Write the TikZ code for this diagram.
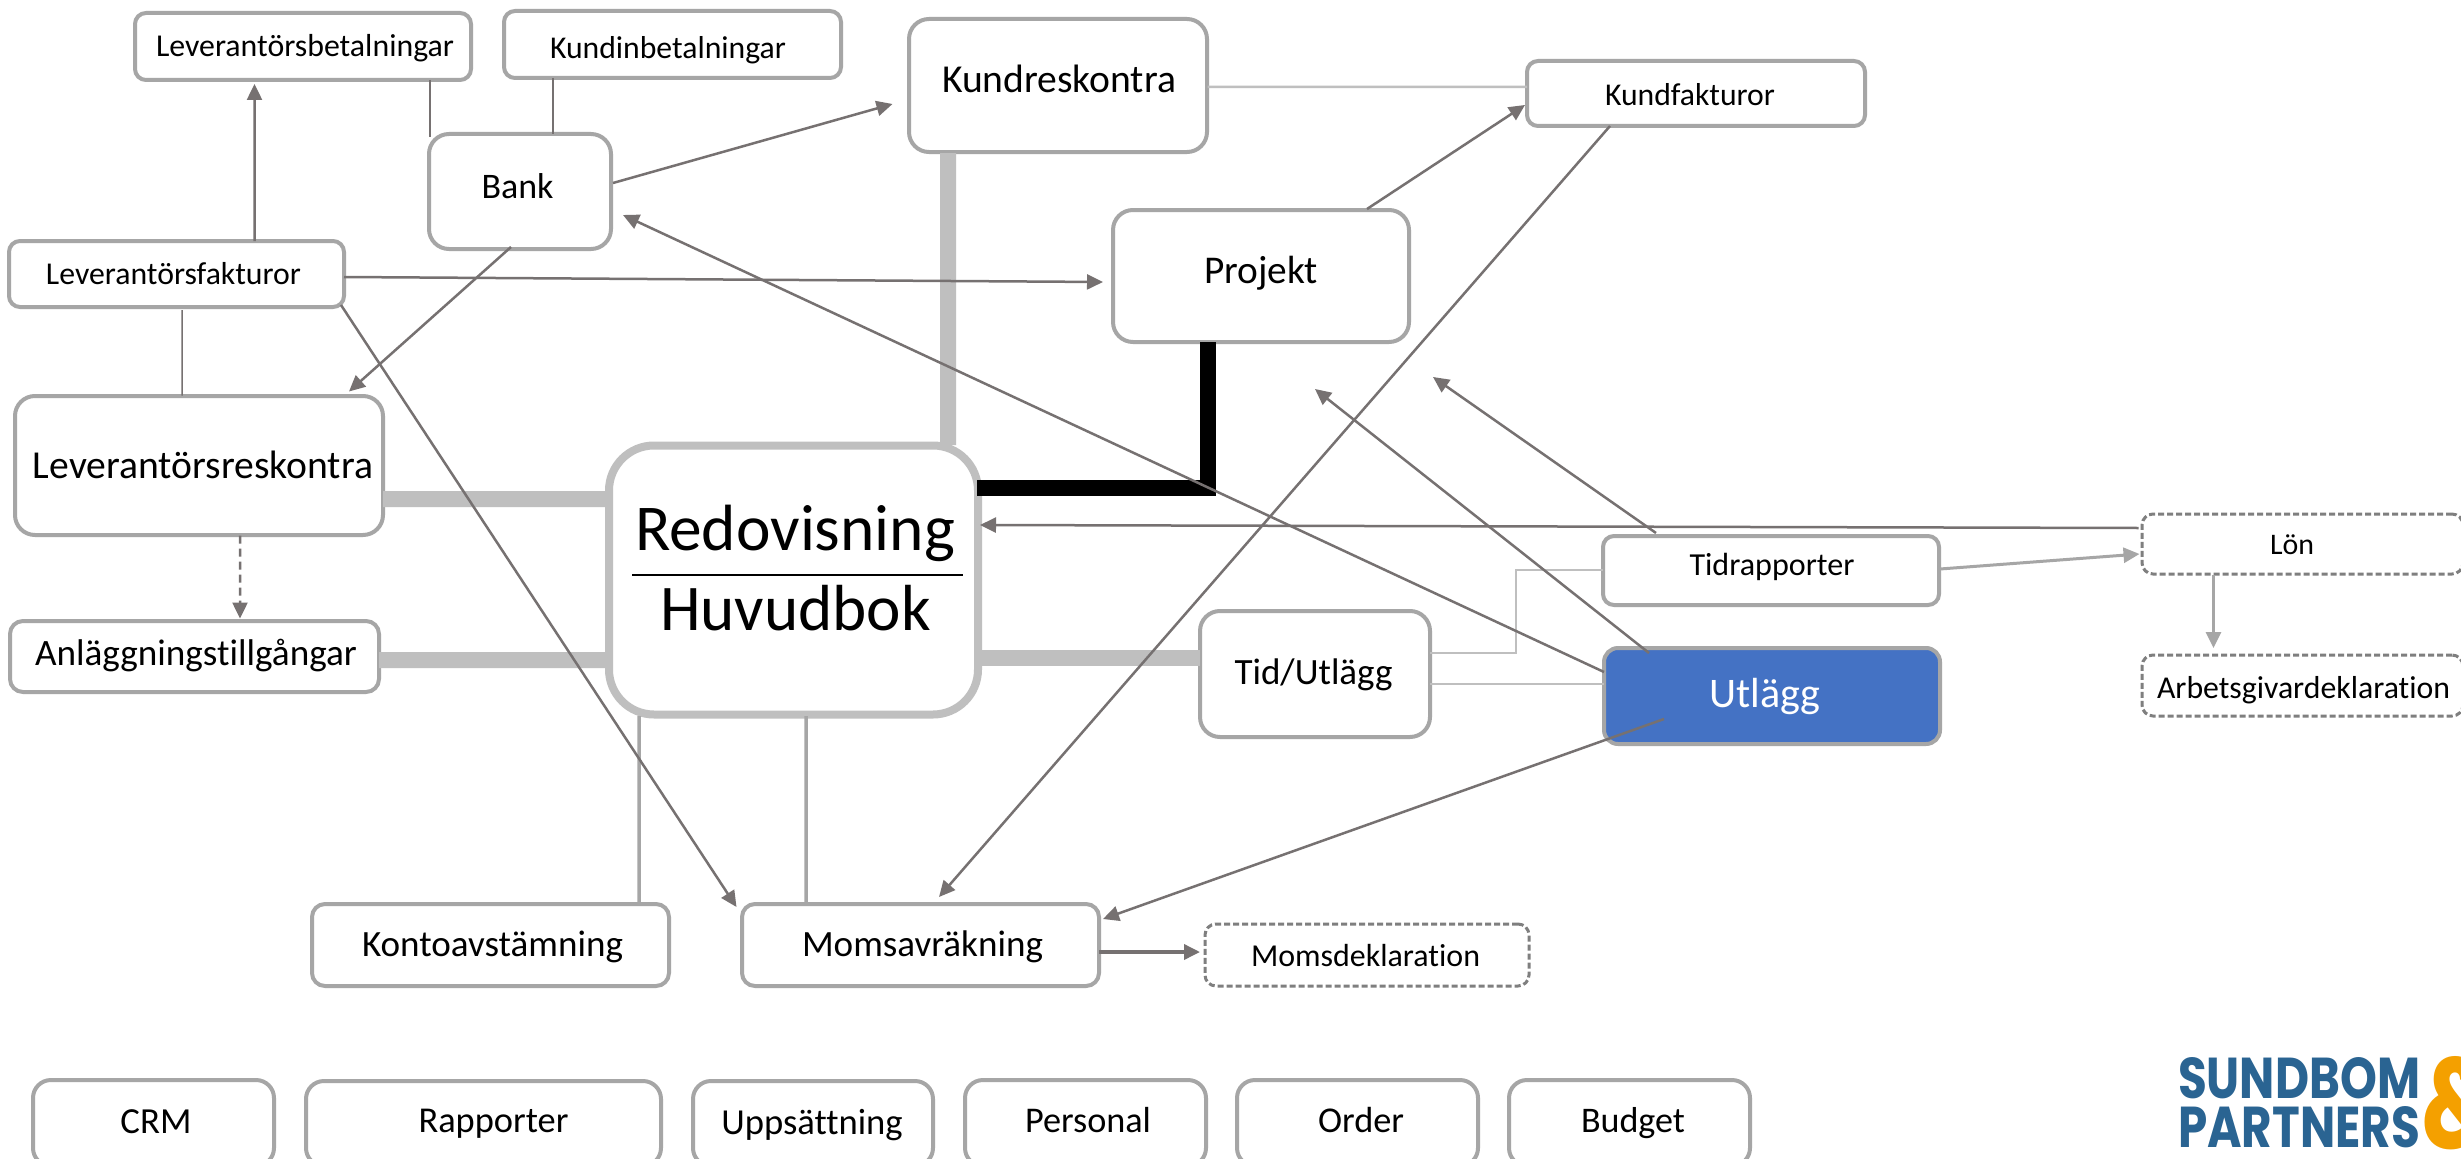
\documentclass[tikz,border=0pt]{standalone}
\usepackage{graphicx}
\usepackage{fontspec}
\setmainfont{Carlito}[Ligatures=NoCommon]
\newfontfamily\logofont{Poppins}
\usetikzlibrary{arrows.meta,calc}
\definecolor{edgec}{HTML}{A6A6A6}
\definecolor{hubc}{HTML}{BFBFBF}
\definecolor{connc}{HTML}{767171}
\definecolor{dashc}{HTML}{7F7F7F}
\definecolor{blueone}{HTML}{4472C4}
\definecolor{logoblue}{HTML}{2A6492}
\definecolor{logoorange}{HTML}{F4A000}
\newlength{\upx}\setlength{\upx}{0.02cm}
\newcommand{\fsz}[1]{\fontsize{#1\upx}{#1\upx}\selectfont}
\tikzset{
  x=0.02cm,y=-0.02cm,
  tip/.tip={Triangle[length=0.32cm,width=0.3cm]},
  base/.style={draw=edgec,fill=white,line width=4\upx,inner sep=0pt,outer sep=0pt,rounded corners=20\upx,text=black,font=\fsz{36}},
  smallbox/.style={base,rounded corners=11\upx},
  bigbox/.style={base,rounded corners=20\upx},
  midbox/.style={base,rounded corners=13\upx},
  lowbox/.style={base,rounded corners=18\upx},
  dashbox/.style={base,draw=dashc,line width=3\upx,dash pattern=on 6\upx off 3\upx,rounded corners=11\upx},
  bluebox/.style={base,fill=blueone,text=white,rounded corners=14\upx},
  hubbox/.style={base,draw=hubc,line width=8\upx,rounded corners=45\upx},
  hubtext/.style={font=\fsz{62},inner sep=0pt,anchor=base},
  arrowconn/.style={draw=connc,line width=2.5\upx,-{tip}},
  plainconn/.style={draw=connc,line width=1.5\upx},
  lightconn/.style={draw=hubc,line width=2.5\upx},
  heavyconn/.style={draw=hubc,line width=16\upx},
  blackconn/.style={draw=black,line width=16\upx},
  greyarrow/.style={draw=edgec,line width=3\upx,-{tip}},
  hubconn/.style={draw=edgec,line width=3.5\upx},
  strongarrow/.style={draw=connc,line width=3.5\upx,-{tip}},
  dasharrow/.style={draw=connc,line width=2.5\upx,dash pattern=on 8\upx off 5\upx,-{tip}},
  dividerline/.style={draw=black,line width=1.5\upx},
  logotext/.style={inner sep=0pt,outer sep=0pt,font=\logofont\bfseries}
}
% style, name, x1, y1, x2, y2 (border centre lines), text centre x, baseline y, text width; then the text
\newcommand{\pbox}[9]{%
  \tikzset{curbox/.style={#1}}%
  \def\pname{#2}%
  \pgfmathsetmacro{\pcx}{(#3+#5)/2}%
  \pgfmathsetmacro{\pcy}{(#4+#6)/2}%
  \pgfmathsetmacro{\pwd}{#5-#3}%
  \pgfmathsetmacro{\pht}{#6-#4}%
  \pgfmathsetmacro{\pdx}{2*(#7-\pcx)}%
  \pgfmathsetmacro{\pdy}{#8-\pcy}%
  \def\ptw{#9}%
  \pboxtext}
\newcommand{\pboxtext}[1]{%
  \node[curbox,minimum width=\pwd\upx,minimum height=\pht\upx] (\pname) at (\pcx,\pcy)
    {\makebox[0pt]{\hspace*{\pdx\upx}\smash{\raisebox{-\pdy\upx}{\resizebox{\ptw\upx}{!}{#1}}}}};%
}
\begin{document}
\begin{tikzpicture}
\clip (0,0) rectangle (2461,1159);
\fill[white] (0,0) rectangle (2461,1159);
% boxes
\pbox{smallbox}{levbet}{135}{13}{471}{80}{305}{57}{298}{Leverantörsbetalningar}
\pbox{smallbox}{kundinb}{504}{11}{841}{78}{668}{59}{236}{Kundinbetalningar}
\pbox{bigbox}{kr}{909}{19}{1207}{152}{1059}{93}{234}{Kundreskontra}
\pbox{smallbox}{kf}{1527}{61}{1865}{126}{1690}{106}{170}{Kundfakturor}
\pbox{bigbox}{bank}{429}{134}{611}{249}{517.5}{198}{72}{Bank}
\pbox{smallbox}{lf}{9}{241}{344}{307}{173.5}{284}{255}{Leverantörsfakturor}
\pbox{bigbox}{proj}{1113}{210}{1409}{342}{1261}{283}{114}{Projekt}
\pbox{bigbox}{lr}{15}{396}{383}{535}{203}{478}{340}{Leverantörsreskontra}
\pbox{midbox}{an}{10}{621}{379}{692}{196}{665}{322}{Anläggningstillgångar}
\pbox{bigbox}{tu}{1200}{611}{1430}{737}{1313.5}{684}{158}{Tid/Utlägg}
\pbox{smallbox}{tr}{1603}{536}{1939}{605}{1772}{575}{165}{Tidrapporter}
\pbox{bluebox}{ut}{1604}{648}{1940}{744}{1765}{707}{111}{Utlägg}
\pbox{dashbox}{lon}{2142}{514}{2463}{574}{2292}{554}{44}{Lön}
\pbox{dashbox}{ag}{2142}{655}{2463}{716}{2303.5}{698}{293}{Arbetsgivardeklaration}
\pbox{midbox}{ko}{312}{904}{669}{986}{492.5}{956}{261}{Kontoavstämning}
\pbox{midbox}{mo}{742}{904}{1099}{986}{922.5}{956}{241}{Momsavräkning}
\pbox{dashbox}{md}{1205}{924}{1529}{986}{1365.5}{966}{229}{Momsdeklaration}
\pbox{lowbox}{crm}{33}{1080}{274}{1166}{156}{1133}{71}{CRM}
\pbox{lowbox}{rap}{306}{1081}{661}{1166}{493.5}{1132}{150}{Rapporter}
\pbox{lowbox}{upp}{693}{1081}{933}{1166}{812}{1134}{181.5}{Uppsättning}
\pbox{lowbox}{per}{965}{1080}{1206}{1166}{1088}{1132}{126}{Personal}
\pbox{lowbox}{ord}{1237}{1080}{1478}{1166}{1361}{1132}{86}{Order}
\pbox{lowbox}{bud}{1509}{1080}{1750}{1166}{1633}{1132}{104}{Budget}
% hub
\node[hubbox,minimum width=369\upx,minimum height=269\upx] (redov) at (793.5,580) {};
\node[hubtext] (redtxt) at (795,550) {\resizebox{320\upx}{!}{Redovisning}};
\node[hubtext] (hubtxt) at (795.5,630) {\resizebox{271\upx}{!}{Huvudbok}};
\draw[dividerline] ($(redov)+(-161.5,-5)$) -- ($(redov)+(169.5,-5)$);
% heavy connectors
\draw[heavyconn] ($(kr)+(-110,67.5)$) -- ($(redov)+(154.5,-135)$);
\draw[heavyconn] ($(lr)+(184,33.5)$) -- ($(redov)+(-186,-81)$);
\draw[heavyconn] ($(an)+(184.5,3.5)$) -- ($(redov)+(-186,80)$);
\draw[heavyconn] ($(redov)+(186,78)$) -- ($(tu)+(-115,-16)$);
\draw[blackconn] ($(proj)+(-53,66)$) |- ($(redov)+(183,-92)$);
% light connectors
\draw[plainconn] ($(levbet)+(127,33.5)$) -- ($(bank)+(-90,-54.5)$);
\draw[plainconn] ($(kundinb)+(-119.5,33.5)$) -- ($(bank)+(33,-57.5)$);
\draw[plainconn] ($(lf)+(5.5,36)$) -- ($(lr)+(-17,-70)$);
\draw[lightconn] ($(kr)+(149.5,1.5)$) -- ($(kf)+(-169,-6.5)$);
\draw[lightconn] ($(tu)+(115,-21)$) -- ++(86,0) |- ($(tr)+(-168,-0.5)$);
\draw[lightconn] ($(tu)+(115,10)$) -- ($(ut)+(-168,-12)$);
\draw[hubconn] ($(redov)+(-154.5,136)$) -- ($(ko)+(148.5,-41)$);
\draw[hubconn] ($(redov)+(12.5,136)$) -- ($(mo)+(-114.5,-41)$);
% arrows
\draw[arrowconn] ($(lf)+(78,-33)$) -- ($(levbet)+(-48.5,37.5)$);
\draw[arrowconn] ($(bank)+(93,-8.5)$) -- ($(kr)+(-165.5,18.5)$);
\draw[arrowconn] ($(bank)+(-9,55.5)$) -- ($(lr)+(150,-74)$);
\draw[arrowconn] ($(lf)+(167.5,3)$) -- ($(proj)+(-158,6)$);
\draw[arrowconn] ($(lf)+(164.5,31)$) -- ($(mo)+(-184,-38)$);
\draw[arrowconn] ($(ut)+(-168,-24)$) -- ($(bank)+(103,23.5)$);
\draw[arrowconn] ($(proj)+(106,-67)$) -- ($(kf)+(-171,11.5)$);
\draw[arrowconn] ($(kf)+(-86,32.5)$) -- ($(mo)+(18.5,-48)$);
\draw[arrowconn] ($(lon)+(-164,-16)$) -- ($(redov)+(186.5,-55)$);
\draw[arrowconn] ($(tr)+(-115,-37.5)$) -- ($(proj)+(172,101)$);
\draw[arrowconn] ($(ut)+(-123,-43)$) -- ($(proj)+(54,113)$);
\draw[arrowconn] ($(ut)+(-108,23)$) -- ($(mo)+(182.5,-26)$);
\draw[strongarrow] ($(mo)+(178.5,7)$) -- ($(md)+(-167,-3)$);
\draw[dasharrow] ($(lr)+(41,70)$) -- ($(an)+(45.5,-38)$);
\draw[greyarrow] ($(tr)+(169,-1.5)$) -- ($(lon)+(-163,10)$);
\draw[greyarrow] ($(lon)+(-89,31)$) -- ($(ag)+(-89,-37.5)$);
% logo
\node[logotext,text=logoblue,anchor=north west] (logoa) at (2178,1057) {\resizebox{242\upx}{41\upx}{SUNDBOM}};
\node[logotext,text=logoblue,anchor=north west] (logob) at (2178,1106) {\resizebox{242\upx}{41\upx}{PARTNERS}};
\node[logotext,text=logoorange,anchor=north west] (logoc) at (2421,1056) {\resizebox{78\upx}{92\upx}{\&}};
\end{tikzpicture}
\end{document}
